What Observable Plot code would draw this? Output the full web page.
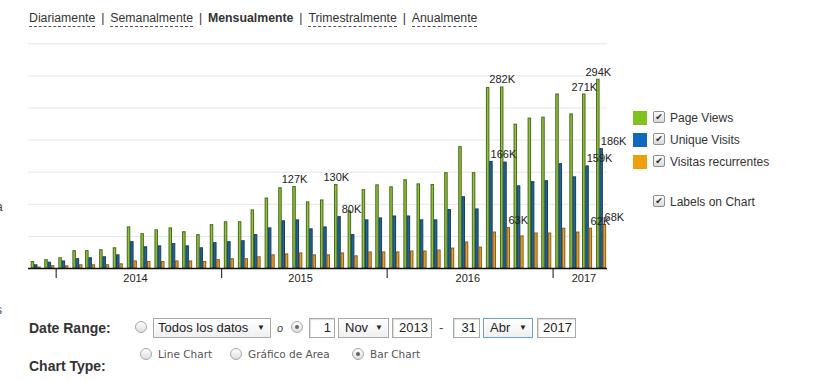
<!DOCTYPE html>
<html><head><meta charset="utf-8">
<script src="https://cdn.jsdelivr.net/npm/d3@7"></script>
<script src="https://cdn.jsdelivr.net/npm/@observablehq/plot@0.6"></script>
<style>
body{margin:0;background:#fff;font-family:Arial,"Liberation Sans",sans-serif;color:#333}
#wrap{position:relative;width:838px;height:381px;overflow:hidden;background:#fff}
.abs{position:absolute;white-space:nowrap}
#nav{left:29px;top:10px;font-size:12.3px;line-height:16px;color:#333}
#nav .lk{border-bottom:1px dashed #555;padding-bottom:1px}
#nav .sep{display:inline-block;width:15px;text-align:center}
#nav b{color:#333}
#chart{position:absolute;left:0;top:30px}
#chart svg{background:transparent;overflow:visible}
.sw{position:absolute;width:14px;height:14px}
.cb{position:absolute;width:10px;height:10px;border:1px solid #8f8f8f;border-radius:2px;background:linear-gradient(#fdfdfd,#d9d9d9);font:9px "DejaVu Sans";line-height:10px;text-align:center;color:#222}
.lt{position:absolute;font-size:12px;color:#333;line-height:14px}
.rb{position:absolute;width:10px;height:10px;border:1px solid #a8a8a8;border-radius:50%;background:linear-gradient(#fff,#dedede)}
.rb.on::after{content:"";position:absolute;left:3px;top:3px;width:4px;height:4px;border-radius:50%;background:#666}
.box{position:absolute;height:18px;border:1px solid #a9a9a9;background:#fff;font-size:13px;line-height:18px;color:#222;box-sizing:content-box}
.sel{background:linear-gradient(#fff,#f0f0f0)}
.sel .ar{position:absolute;right:5px;top:0;font-size:8px}
.inp{text-align:right;padding-right:3px;box-shadow:inset 1px 1px 1px #ddd}
.lab{position:absolute;font-size:14px;font-weight:bold;color:#333}
.rt{position:absolute;font:10.5px "DejaVu Sans",Verdana,sans-serif;color:#555}
</style></head><body>
<div id="wrap">
  <div id="nav" class="abs"><span class="lk">Diariamente</span><span class="sep">|</span><span class="lk">Semanalmente</span><span class="sep">|</span><b>Mensualmente</b><span class="sep">|</span><span class="lk">Trimestralmente</span><span class="sep">|</span><span class="lk">Anualmente</span></div>
  <span class="abs" style="left:-4px;top:200px;font-size:12px;color:#444">a</span>
  <span class="abs" style="left:-4px;top:303px;font-size:12px;color:#444">s</span>
  <div id="chart"></div>
  <div id="legend"></div>
  <div class="lab" style="left:29px;top:320px">Date Range:</div>
  <div class="rb" style="left:135px;top:321px"></div>
  <div class="box sel" style="left:153px;top:318px;width:116px"><span style="padding-left:4px">Todos los datos</span><span class="ar">&#9660;</span></div>
  <span class="abs" style="left:277px;top:322px;font-size:11px;font-style:italic;color:#444">o</span>
  <div class="rb on" style="left:291px;top:321px"></div>
  <div class="box inp" style="left:309px;top:318px;width:21px">1</div>
  <div class="box sel" style="left:338px;top:318px;width:49px"><span style="padding-left:6px">Nov</span><span class="ar">&#9660;</span></div>
  <div class="box inp" style="left:392px;top:318px;width:35px">2013</div>
  <span class="abs" style="left:439px;top:320px;font-size:13px;color:#444">-</span>
  <div class="box inp" style="left:453px;top:318px;width:22px">31</div>
  <div class="box sel" style="left:483px;top:318px;width:48px;border-color:#6a9fd8"><span style="padding-left:6px">Abr</span><span class="ar">&#9660;</span></div>
  <div class="box inp" style="left:537px;top:318px;width:34px">2017</div>
  <div class="lab" style="left:29px;top:358px">Chart Type:</div>
  <div class="rb" style="left:140px;top:348px"></div>
  <span class="rt" style="left:158px;top:348px">Line Chart</span>
  <div class="rb" style="left:230px;top:348px"></div>
  <span class="rt" style="left:248px;top:348px">Gráfico de Area</span>
  <div class="rb on" style="left:352px;top:348px"></div>
  <span class="rt" style="left:370px;top:348px">Bar Chart</span>
</div>
<script>
// ---- data (values in thousands) ----
const months = ["2013-11","2013-12","2014-01","2014-02","2014-03","2014-04","2014-05","2014-06","2014-07","2014-08","2014-09","2014-10","2014-11","2014-12",
"2015-01","2015-02","2015-03","2015-04","2015-05","2015-06","2015-07","2015-08","2015-09","2015-10","2015-11","2015-12",
"2016-01","2016-02","2016-03","2016-04","2016-05","2016-06","2016-07","2016-08","2016-09","2016-10","2016-11","2016-12",
"2017-01","2017-02","2017-03","2017-04"];
const pageViews = [10,13,16,27,27,28.5,31.5,64,53.5,59.5,62.5,56.5,52,67.5,
72,72,90.5,109,125,127,103,106,130,89,122,129.5,
126.5,137.5,131,130,148.5,189,148.5,281,282,224,233.5,235,
271,240,271,294];
const uniqueVisits = [5,9,11,14.5,16,17.5,20.5,41,33,34.5,38,34.5,31.5,39.5,
41,42.5,52,62.5,73.5,75,61,64,80,52,75,78,
81,81,75,75,91,111,92,166,165,128,134.5,136,
162.5,142,159,186];
const returning = [1.5,3.5,3.5,5,5,5,6.5,11,10,10,11,11,10,13,
14.5,14.5,17.5,20.5,22,23.5,20.5,20.5,23.5,19,25,25,
25,26.5,26.5,28,31,40.5,32.5,56,63,50,54.5,54.5,
62,56,62,68];
const seriesNames = ["Page Views","Unique Visits","Visitas recurrentes"];
const yearTicks = ["2014-01-01","2015-01-01","2016-01-01","2017-01-01"];
const yearLabels = ["2014","2015","2016","2017"];
const yearLabelAt = ["2014-06-25","2015-06-24","2016-06-27","2017-03-10"];
const gridValues = [50,100,150,200,250,300,350];
const labelled = [["2015-06",0],["2015-09",0],["2015-09",1],["2016-09",0],["2016-08",1],["2016-09",2],
["2017-03",0],["2017-04",0],["2017-04",1],["2017-03",1],["2017-03",2],["2017-04",2]];

// ---- styles ----
const fills = ["#8cc23e","#1e6399","#e2a02a"];
const strokes = ["#4b6a1b","#163f5f","#8a5c16"];
const swatch = ["#80c31e","#1069bd","#f09f0c"];
const DAY = 864e5;
const centerDay = [9.75,17,24.25];
const halfDay = 2.75;

const parseM = s => new Date(s + "-01T00:00:00Z");
const vals = [pageViews, uniqueVisits, returning];
const rows = months.flatMap((m,i)=> vals.map((arr,j)=>({date: parseM(m), s: j, v: arr[i]*1000})));
const cx = d => new Date(+d.date + centerDay[d.s]*DAY);
const labRows = labelled.map(([m,s]) => rows.find(r => r.s===s && +r.date === +parseM(m)));

const textOpts = (s, dx) => Plot.text(labRows.filter(d=>d.s===s), {
  x: cx, y: "v", text: d => Math.round(d.v/1000) + "K",
  dy: -4, dx, lineAnchor: "bottom", fontSize: 11, fill: "#222",
  fontFamily: "Arial, 'Liberation Sans', sans-serif"
});

const chart = Plot.plot({
  width: 640, height: 260,
  marginLeft: 28, marginRight: 33, marginTop: 13.3, marginBottom: 22,
  style: {background: "transparent", fontFamily: "Arial, 'Liberation Sans', sans-serif", fontSize: "11px", color: "#111"},
  x: {type: "utc", domain: [parseM("2013-11"), parseM("2017-05")],
      ticks: yearTicks.map(d => new Date(d + "T00:00:00Z")), tickSize: 10, tickFormat: () => "", label: null},
  y: {domain: [0, 350000], axis: null},
  marks: [
    Plot.ruleY(gridValues.map(v=>v*1000), {stroke: "#e6e6e6", strokeWidth: 1}),
    Plot.rect(rows, {
      x1: d => new Date(+d.date + (centerDay[d.s]-halfDay)*DAY),
      x2: d => new Date(+d.date + (centerDay[d.s]+halfDay)*DAY),
      y1: 0, y2: "v",
      fill: d => fills[d.s], stroke: d => strokes[d.s], strokeWidth: 1
    }),
    Plot.ruleY([0], {stroke: "#111", strokeWidth: 1.5}),
    Plot.text(yearLabels.map((t,i)=>({t, at: new Date(yearLabelAt[i]+"T00:00:00Z")})), {
      x: "at", text: "t", frameAnchor: "bottom", dy: 13, fontSize: 11, fill: "#222"
    }),
    textOpts(0, 0),
    textOpts(1, 12),
    textOpts(2, 9.5)
  ]
});
document.getElementById("chart").appendChild(chart);

// legend
const lg = document.getElementById("legend");
const rowsY = [111, 133, 155];
seriesNames.forEach((name,i)=>{
  lg.insertAdjacentHTML("beforeend",
    `<div class="sw" style="left:633px;top:${rowsY[i]}px;background:${swatch[i]}"></div>`+
    `<div class="cb" style="left:653px;top:${rowsY[i]}px">&#10004;</div>`+
    `<div class="lt" style="left:670px;top:${rowsY[i]}px">${name}</div>`);
});
lg.insertAdjacentHTML("beforeend",
  `<div class="cb" style="left:653px;top:195px">&#10004;</div><div class="lt" style="left:670px;top:195px">Labels on Chart</div>`);
</script>
</body></html>
